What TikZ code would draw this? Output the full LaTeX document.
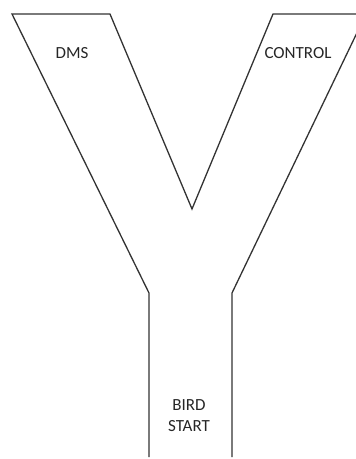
\documentclass[tikz,border=0pt]{standalone}
\usepackage{fontspec}
\setmainfont{Carlito}
\begin{document}
\begin{tikzpicture}[x=1pt, y=-1pt, line width=1.3pt,
  maze/.style={draw=black!80, line join=miter},
  armlabel/.style={font=\fontsize{17}{21}\selectfont, text=black!85, align=center}]
  \useasboundingbox (0,0) rectangle (356,459);
  \clip (0,0) rectangle (356,459);
  % Y-maze outline
  \coordinate (SL) at (149,457);
  \coordinate (JL) at (149,293);
  \coordinate (TL) at (12,14);
  \coordinate (TLi) at (110,14);
  \coordinate (V) at (192,209);
  \coordinate (TRi) at (273,14);
  \coordinate (TR) at (366,14);
  \coordinate (JR) at (232,293);
  \coordinate (SR) at (232,457);

  \draw[maze] (SL) -- (JL) -- (TL) -- (TLi) -- (V) -- (TRi) -- (TR) -- (JR) -- (SR);

  \node[armlabel] (dms) at (72,53) {DMS};
  \node[armlabel] (control) at (298,53) {CONTROL};
  \node[armlabel] (bird) at (189,416) {BIRD\\START};
\end{tikzpicture}
\end{document}
